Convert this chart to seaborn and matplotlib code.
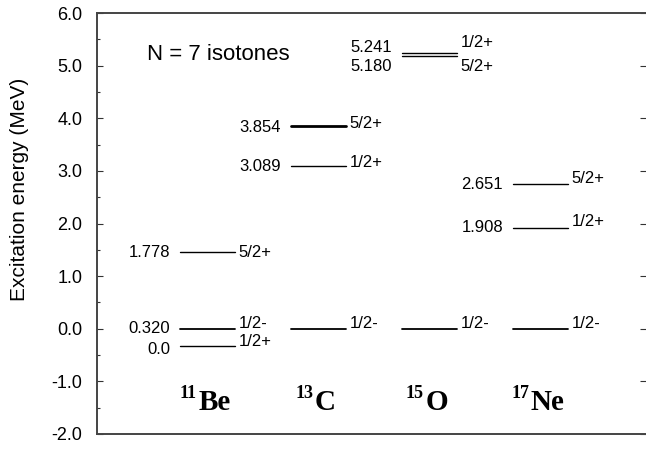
import numpy as np
import pandas as pd
import matplotlib
matplotlib.use("Agg")
import matplotlib.pyplot as plt
import seaborn as sns
from matplotlib.ticker import MultipleLocator, FormatStrFormatter

# ---------------- data ----------------
nuclei = ['Be', 'C', 'O', 'Ne']
mass_numbers = ['11', '13', '15', '17']
level_nucleus = ['Be', 'Be', 'Be', 'C', 'C', 'C', 'O', 'O', 'O', 'Ne', 'Ne', 'Ne']
# drawn level position (MeV); 11Be levels shifted so that 1/2- sits at 0
level_position = [-0.32, 0.0, 1.458, 0.0, 3.089, 3.854, 0.0, 5.180, 5.241, 0.0, 1.92, 2.76]
energy_text = ['0.0', '0.320', '1.778', '', '3.089', '3.854', '', '5.180', '5.241', '', '1.908', '2.651']
spin_text = ['1/2+', '1/2-', '5/2+', '1/2-', '1/2+', '5/2+', '1/2-', '5/2+', '1/2+', '1/2-', '1/2+', '5/2+']
y_ticks = [-2.0, -1.0, 0.0, 1.0, 2.0, 3.0, 4.0, 5.0, 6.0]

# ---------------- style ----------------
line_w = [1.0, 1.3, 1.0, 1.3, 1.0, 2.0, 1.3, 1.0, 1.0, 1.3, 1.0, 1.0]
energy_dy_px = [-4, 0, 0, 0, 0, -1.5, 0, -10.5, 5.5, 0, 0, -0.5]
spin_dy_px = [4.5, 5, 0, 5, 3.5, 2.5, 5, -10.5, 10.5, 5, 6, 5]
half_w = 0.248
px2pt = 0.72

sns.set_theme(style="ticks")
plt.rcParams['font.family'] = ['Liberation Sans', 'DejaVu Sans']

fig = plt.figure(figsize=(6.46, 4.49), dpi=100)
ax = fig.add_axes([97 / 646, 15 / 449, 1 - 97 / 646, 421 / 449])

xc = {n: i for i, n in enumerate(nuclei)}
rows = []
for k, (n, y) in enumerate(zip(level_nucleus, level_position)):
    for side in (-1, 1):
        rows.append({'x': xc[n] + side * half_w, 'y': y, 'lid': k, 'w': line_w[k]})
df = pd.DataFrame(rows)

sns.lineplot(data=df, x='x', y='y', units='lid', estimator=None, size='w',
             sizes={1.0: 1.0, 1.3: 1.3, 2.0: 2.0}, color='black', sort=False,
             legend=False, ax=ax)

for k, (n, y) in enumerate(zip(level_nucleus, level_position)):
    x0 = xc[n] - half_w
    x1 = xc[n] + half_w
    if energy_text[k]:
        ax.annotate(energy_text[k], xy=(x0, y), xytext=(-7, energy_dy_px[k] * px2pt),
                    textcoords='offset points', ha='right', va='center', fontsize=12,
                    color='black')
    ax.annotate(spin_text[k], xy=(x1, y), xytext=(2.5, spin_dy_px[k] * px2pt),
                textcoords='offset points', ha='left', va='center', fontsize=12,
                color='black')

for n, m in zip(nuclei, mass_numbers):
    t = ax.annotate(n, xy=(xc[n], -1.54), xytext=(5, 0), textcoords='offset points',
                    ha='center', va='baseline', fontsize=21, fontweight='bold',
                    family='Liberation Serif', color='black')
    ax.annotate(m, xy=(0, 1), xycoords=t, xytext=(-1, 3), textcoords='offset points',
                ha='right', va='top', fontsize=13, fontweight='bold',
                family='Liberation Serif', color='black')

ax.text(-0.545, 5.21, 'N = 7 isotones', ha='left', va='center', fontsize=16, color='black')

ax.set_xlim(-0.9955, 3.9505)
ax.set_ylim(-2.0, 6.0)
ax.set_yticks(y_ticks)
ax.yaxis.set_major_formatter(FormatStrFormatter('%.1f'))
ax.yaxis.set_minor_locator(MultipleLocator(0.5))
ax.set_xticks([])
ax.set_xlabel('')
ax.set_ylabel('Excitation energy (MeV)', fontsize=15, color='black')
ax.yaxis.set_label_coords(-0.124, 0.58)
ax.tick_params(axis='y', which='major', direction='in', length=4, width=0.8,
               labelsize=13, pad=10.5, colors='#333333', labelcolor='black', right=True)
ax.tick_params(axis='y', which='minor', direction='in', length=2.5, width=0.8,
               colors='#333333', right=False)
for s in ['left', 'top', 'bottom']:
    ax.spines[s].set_color('#444444')
    ax.spines[s].set_linewidth(1.4)
ax.spines['right'].set_visible(False)
ax.set_facecolor('white')

fig.savefig('out.png', dpi=100, facecolor='white')
